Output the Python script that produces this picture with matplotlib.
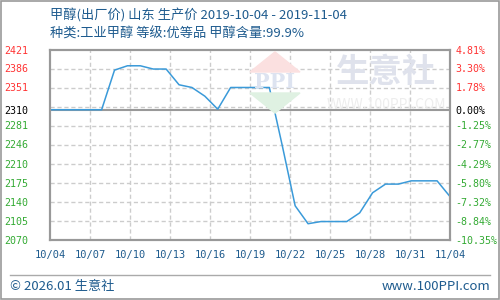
import numpy as np
import matplotlib.pyplot as plt
from matplotlib.patches import Polygon

plt.rcParams['font.family'] = ['Noto Sans CJK SC', 'DejaVu Sans']

# daily ex-factory price, 10/04 .. 11/04
days = list(range(32))
price = [2310, 2310, 2310, 2310, 2310, 2383, 2391, 2391, 2385, 2385,
         2356, 2351, 2335, 2311, 2351, 2351, 2351, 2351, 2244, 2133,
         2100, 2104, 2104, 2104, 2120, 2157, 2173, 2173, 2179, 2179,
         2179, 2150]

base = 2310
ymin, ymax = 2070, 2421
left_ticks = [2070, 2105, 2140, 2175, 2210, 2246, 2281, 2310, 2351, 2386, 2421]
right_labels = ['-10.35%', '-8.84%', '-7.32%', '-5.80%', '-4.29%', '-2.77%',
                '-1.25%', '0.00%', '1.78%', '3.30%', '4.81%']
xlabels = ['10/04', '10/07', '10/10', '10/13', '10/16', '10/19',
           '10/22', '10/25', '10/28', '10/31', '11/04']

blue_txt = '#1e5b8e'
red = '#ff3333'
green = '#33aa33'
grid_c = '#cccccc'
spine_c = '#999999'

fig = plt.figure(figsize=(5, 3), dpi=100)
ax = fig.add_axes([0.1, 0.2, 0.8, 0.635])

# watermark
wm = '#dfe2ec'
fig.patches.append(Polygon([[0.50, 0.760], [0.55, 0.827], [0.60, 0.760]],
                           closed=True, transform=fig.transFigure,
                           color='#fbe0e0', zorder=0))
fig.patches.append(Polygon([[0.50, 0.690], [0.55, 0.623], [0.60, 0.690]],
                           closed=True, transform=fig.transFigure,
                           color='#dff1e2', zorder=0))
fig.text(0.55, 0.725, 'PPI', color='#dde3f0', fontsize=15, ha='center',
         va='center', family='DejaVu Serif', weight='bold')
fig.text(0.772, 0.758, '生意社', color=wm, fontsize=24, ha='center',
         va='center', weight='bold')
fig.text(0.772, 0.650, 'WWW.100PPI.COM', color='#ededed', fontsize=10,
         ha='center', va='center')

ax.set_facecolor('none')
ax.set_xlim(0, 31)
ax.set_ylim(ymin, ymax)

xt = np.linspace(0, 31, 11)
for x in xt[1:-1]:
    ax.axvline(x, color=grid_c, lw=1, ls=(0, (3, 2)), zorder=1)
for y in np.linspace(ymin, ymax, 11)[1:-1]:
    ax.axhline(y, color=grid_c, lw=1, ls=(0, (3, 2)), zorder=1)
ax.axhline(base, color=spine_c, lw=1.5, zorder=2)

ax.plot(days, price, color='#3a9ad9', lw=1.1, zorder=3)

ax.set_xticks(xt)
ax.set_xticklabels(xlabels, family='DejaVu Sans Mono', fontsize=7.5,
                   color=blue_txt)
ax.set_yticks(left_ticks)
ax.set_yticklabels([str(v) for v in left_ticks], family='DejaVu Sans Mono',
                   fontsize=7.2)
ax.tick_params(axis='y', length=0, pad=16)
ax.tick_params(axis='x', length=0, pad=7)

ax2 = ax.twinx()
ax2.set_ylim(ymin, ymax)
ax2.set_yticks(left_ticks)
ax2.set_yticklabels(right_labels, family='DejaVu Sans Mono', fontsize=7.2)
ax2.tick_params(axis='y', length=0, pad=4)

for a in (ax, ax2):
    for lab, v in zip(a.get_yticklabels(), left_ticks):
        lab.set_color(red if v > base else (green if v < base else 'black'))
    for s in a.spines.values():
        s.set_color(spine_c)
        s.set_linewidth(1.5)

fig.text(0.1, 0.95, '甲醇(出厂价) 山东 生产价 2019-10-04 - 2019-11-04',
         color=blue_txt, fontsize=9.5, va='center')
fig.text(0.1, 0.885, '种类:工业甲醇 等级:优等品 甲醇含量:99.9%',
         color=blue_txt, fontsize=9.5, va='center')

fig.add_artist(plt.Line2D([0.02, 0.98], [0.083, 0.083], color='#aaaaaa',
                          lw=1, transform=fig.transFigure))
fig.text(0.02, 0.045, '© 2026.01 生意社', color=blue_txt, fontsize=9.5,
         va='center')
fig.text(0.98, 0.045, 'www.100PPI.com', color=blue_txt, fontsize=9.5,
         va='center', ha='right')
fig.add_artist(plt.Rectangle((0.001, 0.002), 0.997, 0.995, fill=False,
                             ec='#999999', lw=1.2,
                             transform=fig.transFigure))

fig.savefig('out.png', dpi=100)
